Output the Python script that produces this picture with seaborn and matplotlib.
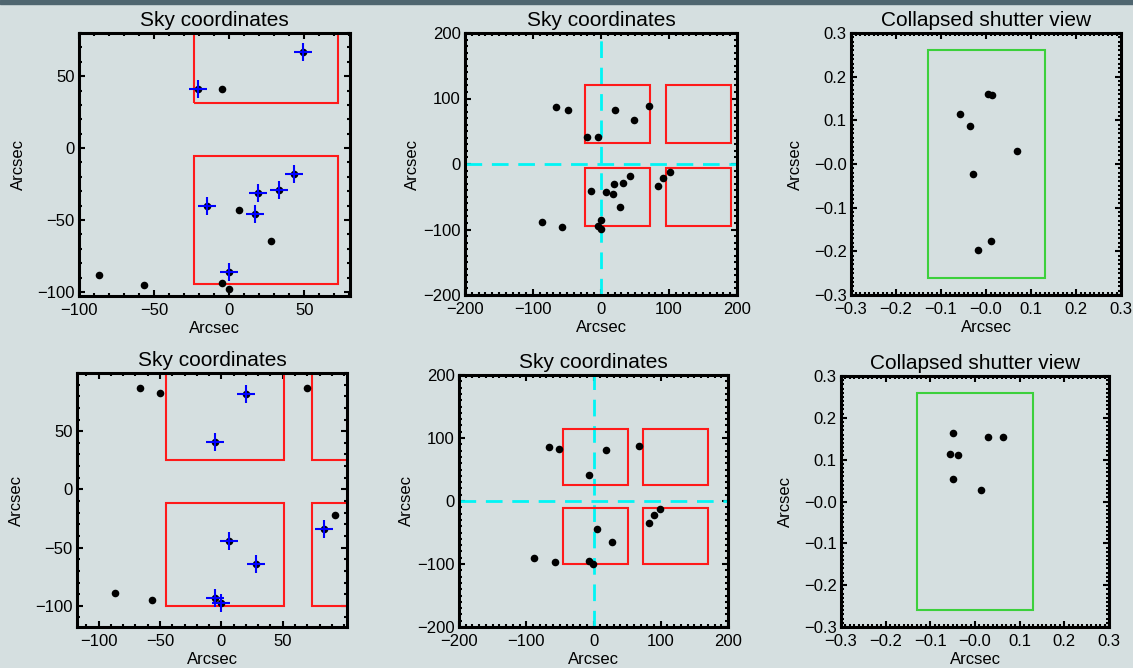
import numpy as np
import pandas as pd
import matplotlib
matplotlib.use("Agg")
import matplotlib.pyplot as plt
from matplotlib.patches import Rectangle
from matplotlib.ticker import MultipleLocator, FixedLocator, FixedFormatter
import seaborn as sns

# ---------------- data ---------------- #

# top row, zoomed sky view (first 8 are the selected targets -> blue cross)
zoom_a_x = [49, -21, -15, 19, 33, 43, 17, 0, -5, 6.5, 28, -86.5, -56.5, -5, 0]
zoom_a_y = [67, 41, -40, -31, -29, -18, -46, -86, 41, -43, -64.5, -88.5, -95, -93.5, -98]
zoom_a_sel = [True] * 8 + [False] * 7

# top row, full sky view
full_a_x = [-66, -49, 20, 49, 70, -21, -5, -15, 7, 19, 17, 32.5, 43, 28, 84, 91, 101,
            -87, -57, 0, -5, 0]
full_a_y = [87, 83, 82, 66.5, 88, 41, 41, -40.5, -43, -31, -46, -29.5, -18, -65, -34, -22, -12,
            -89, -95.5, -86, -94, -99]

# top row, collapsed shutter view
coll_a_x = [-0.058, -0.036, 0.005, 0.013, 0.069, -0.029, 0.010, -0.017]
coll_a_y = [0.115, 0.088, 0.160, 0.159, 0.029, -0.024, -0.176, -0.196]

# bottom row, zoomed sky view (first 7 selected)
zoom_b_x = [20, -5, 6.5, 28, -5, 0, 84, -66, -50, 69.7, 92.6, -87, -56.6]
zoom_b_y = [81.6, 41, -44, -64.5, -93, -98, -34, 86.7, 82.4, 87, -21.8, -88.6, -95.3]
zoom_b_sel = [True] * 7 + [False] * 6

# bottom row, full sky view
full_b_x = [-66.5, -50.6, 18.4, 67, -6.5, 5, 26.8, 82.4, 90.3, 99.3, -87.8, -57.6, -6.5, -1]
full_b_y = [86, 82, 81.5, 86.8, 40.7, -44.4, -65.4, -34.3, -22.7, -13.2, -89.7, -96.6, -95, -99.7]

# bottom row, collapsed shutter view
coll_b_x = [-0.05, 0.029, 0.063, -0.056, -0.039, -0.05, 0.013]
coll_b_y = [0.163, 0.154, 0.154, 0.113, 0.111, 0.053, 0.028]

# shutter outlines (lower-left corners, width, height) in arcsec
shut_a_x0 = [-23.5, 95]
shut_a_y0 = [-94.5, 31.5]
shut_b_x0 = [-45, 74]
shut_b_y0 = [-100.5, 25.5]
shut_w = 96
shut_h = 89

# open area of one shutter in the collapsed view
slit_x0, slit_y0, slit_w, slit_h = -0.13, -0.26, 0.26, 0.52

zoom_ticks = [-100, -50, 0, 50]
coll_ticks = [-0.3, -0.2, -0.1, 0.0, 0.1, 0.2, 0.3]
coll_labels = ["\u22120.3", "\u22120.2", "\u22120.1", "\u22120.0", "0.1", "0.2", "0.3"]

BG = "#d5dfe0"
W, H = 1133, 668

sns.set_theme(style="ticks", rc={"axes.facecolor": BG, "figure.facecolor": BG})
plt.rcParams["font.family"] = ["Liberation Sans", "DejaVu Sans"]

fig = plt.figure(figsize=(W / 100, H / 100), dpi=100)
fig.patch.set_facecolor(BG)
# dark strip along the top edge of the screenshot
fig.patches.append(Rectangle((0, 1 - 4 / H), 1, 4 / H, transform=fig.transFigure,
                             color="#4f6670", zorder=0))


def add_panel(left, right, top, bottom):
    ax = fig.add_axes([left / W, 1 - bottom / H, (right - left) / W, (bottom - top) / H])
    ax.set_facecolor(BG)
    for sp in ax.spines.values():
        sp.set_linewidth(2.2)
        sp.set_color("black")
    ax.tick_params(which="both", direction="in", top=True, right=True,
                   color="black", width=1.5, labelsize=12, labelcolor="black")
    ax.tick_params(which="major", length=4.5)
    ax.tick_params(which="minor", length=2)
    ax.tick_params(axis="y", pad=3)
    ax.tick_params(axis="x", pad=5)
    return ax


def finish(ax, title, ylabelpad):
    ax.set_title(title, fontsize=15, pad=5, color="black")
    ax.set_xlabel("Arcsec", fontsize=12, labelpad=2, color="black")
    ax.set_ylabel("Arcsec", fontsize=12, labelpad=ylabelpad, color="black")


def sky_panel(ax, xs, ys, sel, x0s, y0s, xlim, ylim, major, minor, full=False):
    if full:
        ax.axhline(0, color="#00f5f5", lw=2, ls=(0, (6, 3.5)), zorder=1)
        ax.axvline(0, color="#00f5f5", lw=2, ls=(0, (6, 3.5)), zorder=1)
    for x0 in x0s:
        for y0 in y0s:
            ax.add_patch(Rectangle((x0, y0), shut_w, shut_h, fill=False,
                                   edgecolor="#ff1a1a", lw=1.5, zorder=2))
    df = pd.DataFrame({"x": xs, "y": ys})
    sns.scatterplot(data=df, x="x", y="y", ax=ax, color="black", s=30,
                    linewidth=0, zorder=3, legend=False)
    if sel is not None:
        picked = df[np.array(sel)]
        sns.scatterplot(data=picked, x="x", y="y", ax=ax, marker="+", color="#0000ff",
                        s=170, linewidth=1.5, zorder=4, legend=False)
    ax.set_xlim(*xlim)
    ax.set_ylim(*ylim)
    if full:
        ax.xaxis.set_major_locator(MultipleLocator(major))
        ax.yaxis.set_major_locator(MultipleLocator(major))
    else:
        ax.xaxis.set_major_locator(FixedLocator(zoom_ticks))
        ax.yaxis.set_major_locator(FixedLocator(zoom_ticks))
    ax.xaxis.set_minor_locator(MultipleLocator(minor))
    ax.yaxis.set_minor_locator(MultipleLocator(minor))


def collapsed_panel(ax, xs, ys):
    ax.add_patch(Rectangle((slit_x0, slit_y0), slit_w, slit_h, fill=False,
                           edgecolor="#3cd03c", lw=1.5, zorder=2))
    df = pd.DataFrame({"x": xs, "y": ys})
    sns.scatterplot(data=df, x="x", y="y", ax=ax, color="black", s=30,
                    linewidth=0, zorder=3, legend=False)
    ax.set_xlim(-0.3, 0.3)
    ax.set_ylim(-0.3, 0.3)
    for axis in (ax.xaxis, ax.yaxis):
        axis.set_major_locator(FixedLocator(coll_ticks))
        axis.set_major_formatter(FixedFormatter(coll_labels))
        axis.set_minor_locator(MultipleLocator(0.01))


# ---------------- top row ---------------- #
ax1 = add_panel(79, 350, 33, 296)
sky_panel(ax1, zoom_a_x, zoom_a_y, zoom_a_sel, shut_a_x0, shut_a_y0,
          (-100, 80.5), (-102.8, 80), 50, 10)
finish(ax1, "Sky coordinates", 8)

ax2 = add_panel(465, 737, 33, 295)
sky_panel(ax2, full_a_x, full_a_y, None, shut_a_x0, shut_a_y0,
          (-200, 200), (-200, 200), 100, 10, full=True)
finish(ax2, "Sky coordinates", 2)

ax3 = add_panel(851, 1121, 33, 295)
collapsed_panel(ax3, coll_a_x, coll_a_y)
finish(ax3, "Collapsed shutter view", 8)

# ---------------- bottom row ---------------- #
ax4 = add_panel(77, 347, 373, 627)
sky_panel(ax4, zoom_b_x, zoom_b_y, zoom_b_sel, shut_b_x0, shut_b_y0,
          (-117.6, 102.4), (-118.2, 100), 50, 10)
finish(ax4, "Sky coordinates", 8)

ax5 = add_panel(459, 728, 375, 627)
sky_panel(ax5, full_b_x, full_b_y, None, shut_b_x0, shut_b_y0,
          (-200, 200), (-200, 200), 100, 10, full=True)
finish(ax5, "Sky coordinates", 2)

ax6 = add_panel(841, 1109, 376, 627)
collapsed_panel(ax6, coll_b_x, coll_b_y)
finish(ax6, "Collapsed shutter view", 8)

fig.savefig("out.png", dpi=100, facecolor=BG)
